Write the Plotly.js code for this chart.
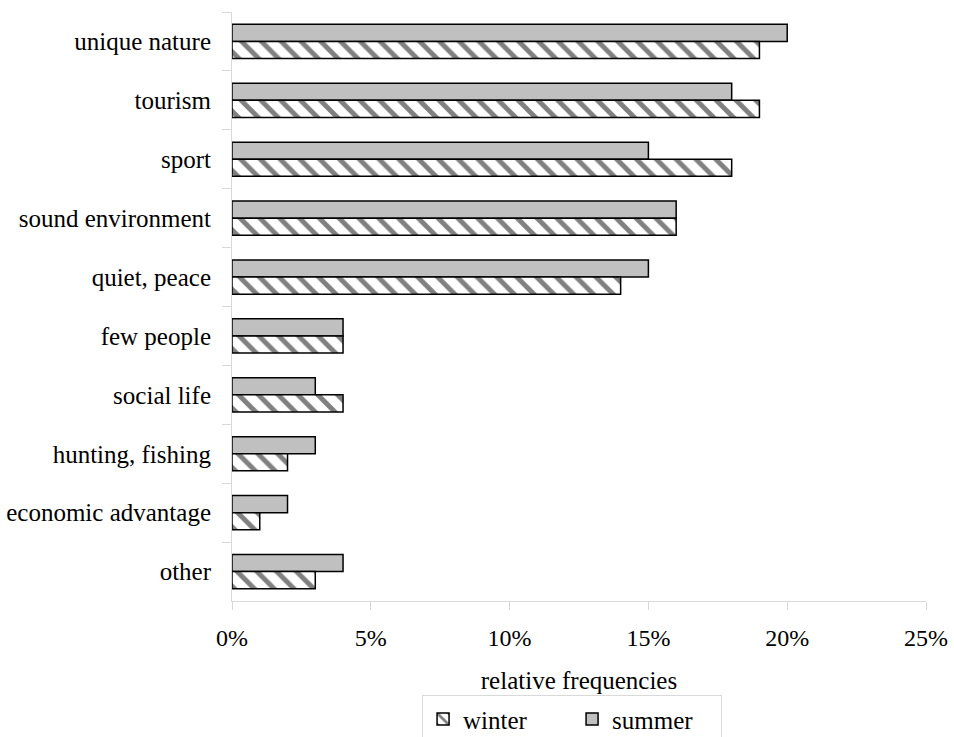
<!DOCTYPE html>
<html>
<head>
<meta charset="utf-8">
<script src="https://cdn.plot.ly/plotly-3.0.1.min.js"></script>
<style>html,body{margin:0;padding:0;background:#fff;}#chart{width:954px;height:737px;}</style>
</head>
<body>
<div id="chart"></div>
<script>
const categories = ["unique nature","tourism","sport","sound environment","quiet, peace","few people","social life","hunting, fishing","economic advantage","other"];
const summerValues = [20,18,15,16,15,4,3,3,2,4];
const winterValues = [19,19,18,16,14,4,4,2,1,3];
const xTickVals = [0,5,10,15,20,25];
const xTickText = ["0%","5%","10%","15%","20%","25%"];

const fontFam = '"Liberation Serif","Times New Roman",serif';

const traces = [
  {
    type: 'bar', orientation: 'h', name: 'summer',
    y: categories, x: summerValues,
    marker: {color: '#c0c0c0', line: {color: '#000', width: 1.5}},
    hoverinfo: 'skip'
  },
  {
    type: 'bar', orientation: 'h', name: 'winter',
    y: categories, x: winterValues,
    marker: {color: '#ffffff', line: {color: '#000', width: 1.5},
      pattern: {shape: '\\', fgcolor: '#808080', bgcolor: '#ffffff', size: 14, solidity: 0.35}},
    hoverinfo: 'skip'
  }
];

const layout = {
  width: 954, height: 737,
  margin: {l: 232, r: 28, t: 12, b: 136, autoexpand: false},
  paper_bgcolor: '#fff', plot_bgcolor: '#fff',
  font: {family: fontFam, size: 25, color: '#000'},
  barmode: 'group', bargap: 0.42, bargroupgap: 0,
  showlegend: true,
  legend: {
    orientation: 'h', traceorder: 'reversed',
    x: 0.49, xanchor: 'center', y: -0.16, yanchor: 'top',
    bordercolor: '#d9d9d9', borderwidth: 1,
    font: {family: fontFam, size: 25, color: '#000'},
    entrywidth: 104, itemwidth: 30
  },
  xaxis: {
    range: [0, 25], tickvals: xTickVals, ticktext: xTickText,
    showgrid: false, zeroline: false,
    showline: true, linecolor: '#d9d9d9', linewidth: 1,
    ticks: 'outside', ticklen: 8, tickcolor: '#d9d9d9',
    ticklabelstandoff: 7,
    tickfont: {family: fontFam, size: 24, color: '#000'},
    title: {text: 'relative frequencies', font: {family: fontFam, size: 25, color: '#000'}, standoff: 21},
    fixedrange: true
  },
  yaxis: {
    type: 'category', autorange: 'reversed',
    showgrid: false, zeroline: false,
    showline: true, linecolor: '#d9d9d9', linewidth: 1,
    ticks: 'outside', tickson: 'boundaries', ticklen: 9, tickcolor: '#d9d9d9',
    tickfont: {family: fontFam, size: 25, color: '#000'},
    ticklabelstandoff: 15,
    fixedrange: true
  }
};

Plotly.newPlot('chart', traces, layout, {displayModeBar: false, staticPlot: true});
</script>
</body>
</html>
